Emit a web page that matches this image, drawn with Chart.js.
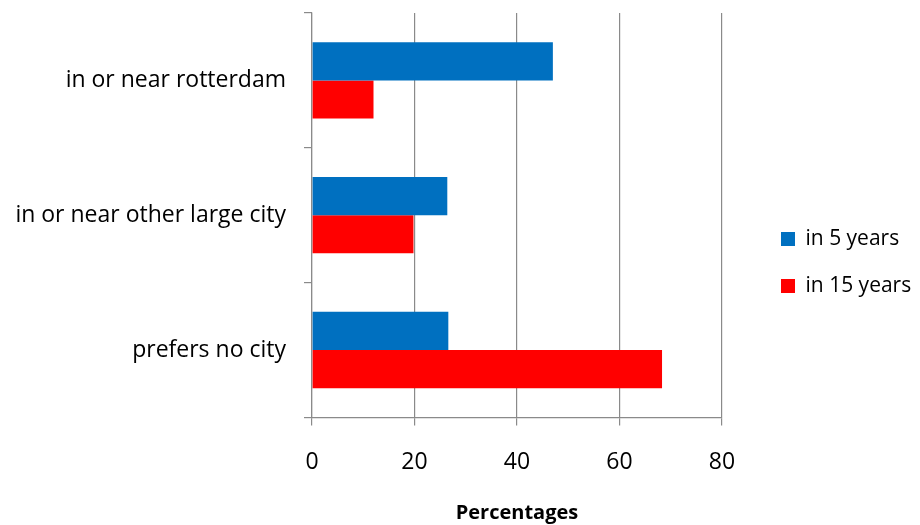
<!DOCTYPE html>
<html>
<head>
<meta charset="utf-8">
<script src="https://cdn.jsdelivr.net/npm/chart.js@4.4.1/dist/chart.umd.min.js"></script>
<style>
  html, body { margin: 0; padding: 0; background: #fff; }
  #wrap { width: 920px; height: 525px; position: relative; }
</style>
</head>
<body>
<div id="wrap"><canvas id="chart"></canvas></div>
<script>
// Where respondents expect to live
const categories = ['in or near rotterdam', 'in or near other large city', 'prefers no city'];
const seriesNames = ['in 5 years', 'in 15 years'];
const in5Years = [47.0, 26.4, 26.6];
const in15Years = [12.0, 19.8, 68.3];
const xTicks = [0, 20, 40, 60, 80];

const FONT = '"Open Sans", "DejaVu Sans", sans-serif';
const GRID = '#8a8a8a';

// push the legend away from the plot area
const legendGap = {
  id: 'legendGap',
  afterLayout(chart) {
    if (chart.legend) {
      const w = chart.legend.width;
      chart.legend.left = chart.chartArea.right + 33;
      chart.legend.right = chart.legend.left + w;
    }
  }
};

new Chart(document.getElementById('chart'), {
  type: 'bar',
  data: {
    labels: categories,
    datasets: [
      { label: seriesNames[0], data: in5Years, backgroundColor: '#0070C0', borderWidth: 0 },
      { label: seriesNames[1], data: in15Years, backgroundColor: '#FF0000', borderWidth: 0 }
    ]
  },
  plugins: [legendGap],
  options: {
    indexAxis: 'y',
    responsive: true,
    maintainAspectRatio: false,
    animation: false,
    categoryPercentage: 0.566,
    barPercentage: 1.0,
    layout: { padding: 0 },
    plugins: {
      tooltip: { enabled: false },
      legend: {
        position: 'right',
        labels: {
          font: { family: FONT, size: 21 },
          color: '#000',
          boxWidth: 14,
          boxHeight: 14,
          padding: 26
        }
      }
    },
    scales: {
      x: {
        min: xTicks[0],
        max: xTicks[xTicks.length - 1],
        afterBuildTicks: (s) => { s.ticks = xTicks.map(v => ({ value: v })); },
        afterFit: (s) => { s.paddingRight = 198; },
        grid: { color: GRID, lineWidth: 1.2, tickLength: 8, drawTicks: true },
        border: { display: true, color: GRID, width: 1.2 },
        ticks: { font: { family: FONT, size: 23 }, color: '#000', padding: 23 },
        title: {
          display: true,
          text: 'Percentages',
          font: { family: FONT, size: 20, weight: 'bold' },
          color: '#000',
          padding: { top: 2, bottom: 0 }
        }
      },
      y: {
        afterFit: (s) => { s.width = 312; s.paddingTop = 13; s.paddingBottom = 0; },
        grid: { display: true, drawOnChartArea: false, drawTicks: true, tickLength: 8, color: GRID, lineWidth: 1.2, offset: true },
        border: { display: true, color: GRID, width: 1.2 },
        ticks: { font: { family: FONT, size: 23 }, color: '#000', padding: 18 }
      }
    }
  }
});
</script>
</body>
</html>
